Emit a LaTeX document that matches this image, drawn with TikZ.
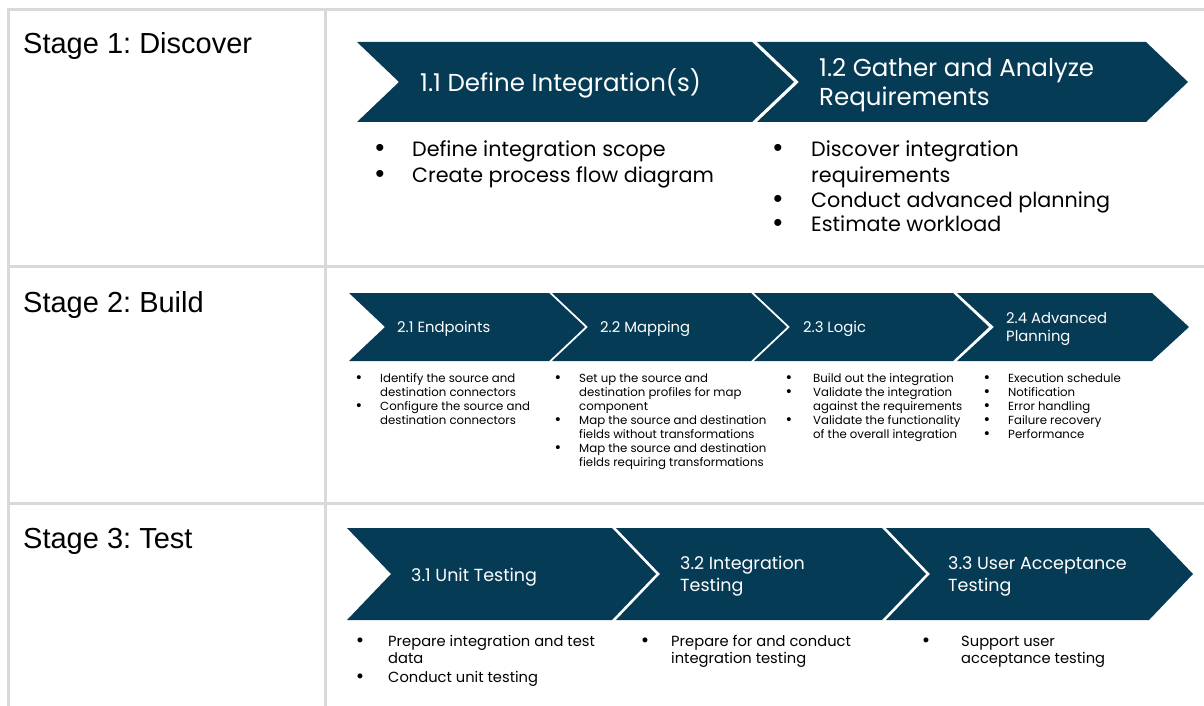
\documentclass[tikz,border=0pt]{standalone}
\usepackage{fontspec}
\setmainfont{Poppins}
\newfontfamily\arialfont{Liberation Sans}
\usepackage{xcolor}
\usepackage{tikz}
\usetikzlibrary{positioning}
\frenchspacing

\definecolor{navy}{HTML}{063B56}
\definecolor{tablerule}{HTML}{D9D9D9}

% chevron: left, right, top, bottom, depth
\newcommand{\chev}[5]{%
  \fill[navy] (#1,#3) -- (#2,#3) -- ({#2+#5},{(#3+#4)/2}) -- (#2,#4)
    -- (#1,#4) -- ({#1+#5},{(#3+#4)/2}) -- cycle;}
% lines of text, baseline on the first one
\newcommand{\lines}[1]{\begin{tabular}[t]{@{}l@{}}#1\end{tabular}}
\newcommand{\bul}{\scalebox{1.25}{\arialfont\textbullet}}

\tikzset{
  stagelabel/.style={anchor=base west, inner sep=0pt, font=\arialfont\fontsize{29}{33}\selectfont},
  chevlabel/.style={anchor=base west, inner sep=0pt, text=white},
  item/.style={anchor=base west, inner sep=0pt},
  dot/.style={anchor=base, inner sep=0pt},
}

\begin{document}
\begin{tikzpicture}[x=1pt, y=-1pt]
            \useasboundingbox (0,0) rectangle (1204,706);
            % Table
            \draw[tablerule, line width=3pt] (8,706) -- (8,10) -- (1204,10);
            \draw[tablerule, line width=3pt] (8,266) -- (1204,266);
            \draw[tablerule, line width=3pt] (8,503) -- (1204,503);
            \draw[tablerule, line width=3pt] (325,10) -- (325,706);
            % Stage names
            \node[stagelabel] (st1) at (23,54) {Stage 1: Discover};
            \node[stagelabel] (st2) at (23,312) {Stage 2: Build};
            \node[stagelabel] (st3) at (23,548) {Stage 3: Test};

            % Stage 1
            \chev{357}{752}{42}{122}{42}
            \chev{757}{1146}{42}{122}{42}
            \begin{scope}[every node/.append style={font=\fontsize{24.5}{29}\selectfont}]
            \node[chevlabel] (c11) at (420,92) {1.1 Define Integration(s)};
            \node[chevlabel] (c12) at (819,77) {\lines{1.2 Gather and Analyze\\Requirements}};
            \end{scope}
            \begin{scope}[every node/.append style={font=\fontsize{20.7}{25}\selectfont}]
            \node[dot] (d11a) at (380,157) {\bul};
            \node[item] (i11a) at (412,157) {Define integration scope};
            \node[dot] (d11b) at (380,182) {\bul};
            \node[item] (i11b) at (412,182) {Create process flow diagram};
            \node[dot] (d12a) at (778,157) {\bul};
            \node[item] (i12a) at (811,157) {\lines{Discover integration\\requirements}};
            \node[dot] (d12b) at (778,207) {\bul};
            \node[item] (i12b) at (811,207) {Conduct advanced planning};
            \node[dot] (d12c) at (778,231) {\bul};
            \node[item] (i12c) at (811,231) {Estimate workload};
            \end{scope}

            % Stage 2
            \chev{349}{549}{293}{361}{36}
            \chev{552}{751}{293}{361}{36}
            \chev{754}{953}{293}{361}{36}
            \chev{957}{1152}{293}{361}{37}
            \begin{scope}[every node/.append style={font=\fontsize{14.8}{18}\selectfont}]
            \node[chevlabel] (c21) at (397,332) {2.1 Endpoints};
            \node[chevlabel] (c22) at (600,332) {2.2 Mapping};
            \node[chevlabel] (c23) at (803,332) {2.3 Logic};
            \node[chevlabel] (c24) at (1006,323) {\lines{2.4 Advanced\\Planning}};
            \end{scope}
            \begin{scope}[every node/.append style={font=\fontsize{11.75}{14}\selectfont}]
            \node[dot] (d21a) at (359,382) {\bul};
            \node[item] (i21a) at (380,382) {\lines{Identify the source and\\destination connectors}};
            \node[dot] (d21b) at (359,410) {\bul};
            \node[item] (i21b) at (380,410) {\lines{Configure the source and\\destination connectors}};
            \node[dot] (d22a) at (558,382) {\bul};
            \node[item] (i22a) at (579,382) {\lines{Set up the source and\\destination profiles for map\\component}};
            \node[dot] (d22b) at (558,424) {\bul};
            \node[item] (i22b) at (579,424) {\lines{Map the source and destination\\fields without transformations}};
            \node[dot] (d22c) at (558,452) {\bul};
            \node[item] (i22c) at (579,452) {\lines{Map the source and destination\\fields requiring transformations}};
            \node[dot] (d23a) at (789,382) {\bul};
            \node[item] (i23a) at (813,382) {Build out the integration};
            \node[dot] (d23b) at (789,396) {\bul};
            \node[item] (i23b) at (813,396) {\lines{Validate the integration\\against the requirements}};
            \node[dot] (d23c) at (789,424) {\bul};
            \node[item] (i23c) at (813,424) {\lines{Validate the functionality\\of the overall integration}};
            \node[dot] (d24a) at (987,382) {\bul};
            \node[item] (i24a) at (1008,382) {Execution schedule};
            \node[dot] (d24b) at (987,396) {\bul};
            \node[item] (i24b) at (1008,396) {Notification};
            \node[dot] (d24c) at (987,410) {\bul};
            \node[item] (i24c) at (1008,410) {Error handling};
            \node[dot] (d24d) at (987,424) {\bul};
            \node[item] (i24d) at (1008,424) {Failure recovery};
            \node[dot] (d24e) at (987,438) {\bul};
            \node[item] (i24e) at (1008,438) {Performance};
            \end{scope}

            % Stage 3
            \chev{347}{612}{528}{620}{44}
            \chev{616}{882}{528}{620}{44}
            \chev{886}{1149}{528}{620}{44}
            \begin{scope}[every node/.append style={font=\fontsize{17.5}{22}\selectfont}]
            \node[chevlabel] (c31) at (411,581) {3.1 Unit Testing};
            \node[chevlabel] (c32) at (680,569) {\lines{3.2 Integration\\Testing}};
            \node[chevlabel] (c33) at (948,569) {\lines{3.3 User Acceptance\\Testing}};
            \end{scope}
            \begin{scope}[every node/.append style={font=\fontsize{14.7}{17}\selectfont}]
            \node[dot] (d31a) at (360,646) {\bul};
            \node[item] (i31a) at (388,646) {\lines{Prepare integration and test\\data}};
            \node[dot] (d31b) at (360,682) {\bul};
            \node[item] (i31b) at (388,682) {Conduct unit testing};
            \node[dot] (d32a) at (645,646) {\bul};
            \node[item] (i32a) at (671,646) {\lines{Prepare for and conduct\\integration testing}};
            \node[dot] (d33a) at (926,646) {\bul};
            \node[item] (i33a) at (961,646) {\lines{Support user\\acceptance testing}};
            \end{scope}
        \end{tikzpicture}
\end{document}
